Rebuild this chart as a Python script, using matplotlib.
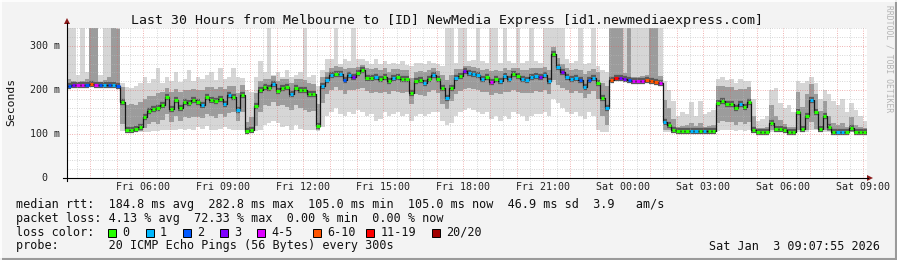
import numpy as np
import matplotlib
matplotlib.use("Agg")
import matplotlib.pyplot as plt
from matplotlib.patches import Rectangle, Polygon
from matplotlib.lines import Line2D

W, H = 897, 260
MONO = "DejaVu Sans Mono"

# one column per 10 minutes, Fri 03:07:55 .. Sat 09:07:55 (hours since Fri 00:00)
t_start = 3 + 7/60 + 55/3600
step_h = 1/6

median_ms = [
    210, 211, 212, 211, 212, 213, 212, 211, 212, 211, 211, 209,
    172, 110, 109, 112, 117, 139, 152, 157, 158, 167, 185, 156,
    177, 160, 173, 171, 178, 173, 167, 185, 177, 175, 180, 168,
    188, 185, 154, 189, 107, 108, 164, 200, 206, 204, 213, 198,
    205, 206, 190, 205, 199, 200, 190, 192, 118, 210, 222, 235,
    237, 236, 222, 234, 229, 238, 245, 227, 228, 230, 224, 230,
    220, 227, 230, 224, 225, 193, 220, 223, 217, 226, 235, 224,
    204, 182, 205, 227, 233, 243, 239, 237, 235, 226, 230, 218,
    224, 221, 231, 226, 236, 231, 224, 223, 229, 232, 230, 235,
    220, 283, 252, 240, 229, 224, 227, 223, 207, 222, 227, 215,
    182, 160, 223, 228, 227, 224, 222, 220, 220, 221, 223, 220,
    219, 217, 128, 120, 109, 106, 107, 106, 106, 107, 106, 106,
    107, 106, 170, 175, 168, 168, 160, 168, 162, 172, 110, 105,
    105, 105, 125, 112, 112, 108, 105, 105, 150, 112, 140, 178,
    151, 112, 140, 117, 105, 105, 105, 105, 113, 105, 105, 105,
]

# lost pings (of 20) per column
loss = [
    2, 3, 4, 4, 2, 7, 4, 2, 1, 2, 1, 2,
    0, 0, 0, 0, 0, 0, 0, 0, 0, 0, 0, 0,
    0, 0, 0, 0, 0, 0, 1, 0, 0, 0, 0, 1,
    1, 0, 1, 0, 0, 0, 0, 0, 0, 0, 1, 0,
    0, 0, 1, 0, 0, 0, 0, 0, 0, 1, 1, 1,
    0, 1, 2, 1, 3, 0, 0, 0, 0, 1, 0, 0,
    0, 1, 0, 0, 0, 0, 0, 0, 1, 0, 1, 0,
    0, 1, 0, 1, 0, 3, 1, 1, 1, 1, 0, 4,
    0, 1, 1, 1, 0, 0, 1, 1, 1, 1, 3, 1,
    1, 0, 1, 3, 1, 1, 1, 2, 1, 2, 1, 0,
    0, 1, 7, 14, 3, 3, 2, 4, 4, 5, 7, 8,
    7, 4, 1, 0, 0, 0, 0, 0, 1, 1, 0, 1,
    0, 0, 0, 0, 0, 0, 0, 1, 0, 0, 0, 0,
    0, 0, 0, 0, 0, 0, 0, 0, 0, 0, 0, 1,
    0, 0, 0, 0, 0, 1, 1, 0, 0, 0, 0, 0,
]

# smoke: fastest / slowest ping, and inner band around the median
ping_min = [
    206, 206, 206, 206, 206, 206, 206, 206, 206, 206, 206, 206,
    106, 104, 104, 104, 104, 105, 105, 106, 106, 108, 110, 108,
    110, 112, 110, 112, 110, 115, 112, 118, 110, 110, 112, 115,
    112, 110, 108, 110, 104, 104, 106, 110, 120, 125, 130, 125,
    115, 118, 110, 120, 112, 108, 108, 110, 106, 115, 140, 150,
    160, 145, 140, 150, 145, 155, 150, 140, 145, 130, 135, 150,
    140, 145, 150, 140, 145, 130, 140, 145, 140, 145, 150, 150,
    130, 120, 125, 140, 150, 155, 160, 155, 150, 145, 150, 135,
    140, 130, 140, 135, 150, 145, 140, 130, 140, 145, 145, 150,
    140, 180, 170, 160, 150, 145, 150, 140, 135, 150, 140, 110,
    105, 105, 219, 224, 223, 220, 218, 216, 216, 217, 219, 216,
    215, 213, 104, 104, 104, 104, 104, 104, 104, 104, 104, 104,
    104, 104, 106, 108, 110, 108, 106, 110, 106, 108, 104, 104,
    104, 104, 104, 104, 104, 104, 104, 104, 104, 104, 104, 110,
    108, 104, 104, 104, 104, 104, 104, 104, 104, 104, 104, 104,
]
spread_dn = [
    3, 3, 3, 3, 3, 3, 3, 3, 3, 3, 3, 3,
    50, 4, 3, 6, 10, 25, 30, 30, 35, 35, 40, 28,
    35, 30, 35, 35, 40, 35, 30, 40, 35, 38, 35, 30,
    40, 35, 25, 40, 3, 3, 45, 50, 40, 40, 40, 35,
    40, 45, 35, 40, 40, 45, 40, 40, 10, 40, 30, 35,
    30, 35, 30, 35, 30, 35, 40, 30, 35, 35, 30, 35,
    30, 30, 35, 30, 30, 25, 30, 35, 30, 30, 35, 30,
    35, 25, 30, 35, 35, 40, 35, 35, 35, 30, 35, 30,
    30, 30, 35, 30, 35, 35, 30, 30, 35, 35, 35, 35,
    30, 60, 40, 35, 30, 30, 30, 30, 25, 30, 30, 35,
    40, 40, 2, 2, 2, 2, 2, 2, 2, 2, 2, 2,
    2, 2, 20, 12, 4, 2, 2, 2, 2, 2, 2, 2,
    2, 2, 45, 45, 40, 40, 40, 40, 40, 45, 5, 1,
    1, 1, 15, 6, 6, 3, 1, 1, 40, 6, 30, 50,
    40, 6, 30, 10, 1, 1, 1, 1, 8, 1, 1, 1,
]
spread_up = [
    14, 9, 6, 9, 14, 130, 130, 8, 10, 18, 130, 130,
    35, 55, 60, 55, 55, 40, 35, 30, 35, 28, 20, 40,
    25, 35, 28, 30, 25, 28, 32, 22, 30, 28, 28, 35,
    22, 25, 40, 22, 20, 30, 30, 20, 20, 22, 18, 22,
    20, 20, 25, 20, 25, 22, 25, 22, 50, 20, 20, 15,
    18, 16, 25, 15, 20, 15, 12, 22, 20, 20, 22, 20,
    22, 20, 18, 22, 20, 35, 22, 20, 25, 20, 15, 20,
    30, 40, 30, 20, 15, 12, 15, 15, 15, 20, 18, 25,
    22, 22, 18, 20, 15, 18, 22, 22, 20, 18, 20, 18,
    25, 15, 20, 20, 20, 22, 20, 22, 30, 22, 20, 25,
    35, 50, 130, 130, 130, 15, 130, 10, 10, 10, 12, 130,
    130, 15, 50, 40, 25, 10, 12, 15, 20, 12, 18, 10,
    12, 15, 40, 35, 40, 38, 40, 35, 40, 35, 30, 8,
    8, 10, 40, 30, 20, 15, 10, 12, 45, 50, 50, 35,
    40, 40, 35, 25, 20, 15, 20, 12, 25, 15, 10, 8,
]
ping_max = [
    341, 341, 235, 341, 240, 341, 341, 235, 341, 341, 341, 341,
    215, 208, 205, 210, 215, 230, 215, 225, 250, 215, 230, 220,
    240, 218, 225, 245, 220, 230, 225, 235, 240, 222, 250, 225,
    230, 250, 230, 228, 200, 195, 230, 265, 240, 341, 235, 240,
    230, 245, 230, 235, 240, 341, 230, 235, 210, 245, 270, 270,
    341, 260, 270, 265, 341, 270, 270, 265, 260, 270, 260, 265,
    260, 262, 260, 265, 258, 255, 262, 262, 260, 265, 262, 260,
    255, 341, 341, 262, 341, 341, 265, 268, 341, 265, 262, 341,
    341, 262, 341, 265, 262, 341, 262, 265, 341, 265, 262, 341,
    341, 341, 341, 341, 270, 262, 265, 341, 260, 262, 341, 255,
    245, 240, 341, 341, 341, 341, 341, 341, 341, 341, 341, 341,
    341, 341, 220, 200, 175, 140, 150, 145, 172, 140, 175, 145,
    150, 155, 225, 230, 222, 225, 215, 225, 220, 220, 180, 130,
    135, 140, 200, 205, 170, 160, 165, 150, 220, 215, 220, 230,
    215, 180, 200, 190, 175, 165, 180, 150, 170, 155, 140, 130,
]

tick_hours = [6, 9, 12, 15, 18, 21, 24, 27, 30, 33]
tick_labels = ["Fri 06:00", "Fri 09:00", "Fri 12:00", "Fri 15:00", "Fri 18:00",
               "Fri 21:00", "Sat 00:00", "Sat 03:00", "Sat 06:00", "Sat 09:00"]
y_ticks = [0, 100, 200, 300]
y_labels = ["0", "100 m", "200 m", "300 m"]

loss_upper = [0, 1, 2, 3, 5, 10, 19, 20]
loss_names = ["0", "1", "2", "3", "4-5", "6-10", "11-19", "20/20"]
loss_colors = ["#26ff00", "#00b8ff", "#0059ff", "#7e00ff",
               "#dd00ff", "#ff5500", "#ff0000", "#a10000"]

title = "Last 30 Hours from Melbourne to [ID] NewMedia Express [id1.newmediaexpress.com]"
rtt_line = "median rtt:  184.8 ms avg  282.8 ms max  105.0 ms min  105.0 ms now  46.9 ms sd  3.9   am/s"
loss_line = "packet loss: 4.13 % avg  72.33 % max  0.00 % min  0.00 % now"
probe_line = "probe:       20 ICMP Echo Pings (56 Bytes) every 300s"
stamp = "Sat Jan  3 09:07:55 2026"


def fx(x):
    return x / W


def fy(y):
    return 1 - y / H


fig = plt.figure(figsize=(W / 100, H / 100), dpi=100, facecolor="#f3f3f3")
ax = fig.add_axes([fx(67), fy(178), 800 / W, 150 / H])
ax.set_facecolor("white")
for s in ax.spines.values():
    s.set_visible(False)

med = np.array(median_ms, float)
n = len(med)
edges = t_start + np.arange(n + 1) * step_h
lo_out = np.minimum(np.array(ping_min, float), med)
hi_out = np.maximum(np.array(ping_max, float), med)
lo_in = np.maximum(med - np.array(spread_dn), lo_out)
hi_in = np.minimum(med + np.array(spread_up), hi_out)


def ext(a):
    return np.append(a, a[-1])


ax.fill_between(edges, ext(lo_out), ext(hi_out), step="post", color="#d6d6d6", lw=0, zorder=1)
ax.fill_between(edges, ext(lo_in), ext(hi_in), step="post", color="#9c9c9c", lw=0, zorder=2)
# dark smoke core hugging the median (horizontal only)
ax.hlines(med, edges[:-1], edges[1:], colors="#5a5a5a", lw=4.5, zorder=2.5)

# grid
for h in np.arange(3.5, 33.01, 0.5):
    major = abs(h - round(h)) < 1e-6
    ax.axvline(h, color="#e06060" if major else "#b8b8b8", alpha=0.6 if major else 0.7,
               lw=0.7, ls=(0, (0.8, 1.6)), zorder=3)
for v in range(20, 341, 20):
    major = v % 100 == 0
    ax.axhline(v, color="#e06060" if major else "#b8b8b8", alpha=0.6 if major else 0.7,
               lw=0.7, ls=(0, (0.8, 1.6)), zorder=3)

ax.step(edges, ext(med), where="post", color="#151515", lw=0.9, zorder=4)
cidx = np.searchsorted(loss_upper, np.array(loss))
cols = [loss_colors[k] for k in cidx]
ax.hlines(med, edges[:-1] + 0.12 * step_h, edges[:-1] + 0.88 * step_h,
          colors=cols, lw=2.2, zorder=5)

ax.set_xlim(t_start, t_start + 30)
ax.set_ylim(0, 341)
ax.set_xticks([])
ax.set_yticks([])

for h, lab in zip(tick_hours, tick_labels):
    ax.annotate(lab, xy=(h, 0), xycoords=("data", "axes fraction"), xytext=(0, -12.5),
                textcoords="offset pixels", ha="center", va="baseline",
                fontsize=7.2, family=MONO, color="#222222")
for v, lab in zip(y_ticks, y_labels):
    off = -20 if lab == "0" else -7
    ax.annotate(lab, xy=(0, v), xycoords=("axes fraction", "data"), xytext=(off, 0),
                textcoords="offset pixels", ha="right", va="center",
                fontsize=7.2, family=MONO, color="#222222")

# axes with arrows
fig.add_artist(Line2D([fx(67), fx(67)], [fy(181), fy(23)], color="black", lw=0.8))
fig.add_artist(Line2D([fx(63), fx(868)], [fy(178), fy(178)], color="black", lw=0.8))
fig.add_artist(Polygon([(fx(64), fy(24)), (fx(70), fy(24)), (fx(67), fy(18))],
                       closed=True, color="#8b1a1a", lw=0))
fig.add_artist(Polygon([(fx(867), fy(175)), (fx(867), fy(181)), (fx(873), fy(178))],
                       closed=True, color="#8b1a1a", lw=0))

fig.text(fx(447), fy(24), title, ha="center", va="baseline", fontsize=9.5, family=MONO, color="#111111")
fig.text(fx(11), fy(102), "Seconds", ha="center", va="center", rotation=90,
         fontsize=8.2, family=MONO, color="#111111")
fig.text(fx(889), fy(5), "RRDTOOL / TOBI OETIKER", ha="center", va="top", rotation=270,
         fontsize=5.8, family=MONO, color="#b4b4b4")

lk = dict(va="baseline", fontsize=8.5, family=MONO, color="#111111")
fig.text(fx(16), fy(207.7), rtt_line, **lk)
fig.text(fx(16), fy(221.7), loss_line, **lk)
fig.text(fx(16), fy(235.7), "loss color:", **lk)
box_x = [108, 145.5, 182.5, 219.5, 256.5, 312.5, 366, 432]
for bx, name, c in zip(box_x, loss_names, loss_colors):
    fig.add_artist(Rectangle((fx(bx), fy(236.5)), 8 / W, 8 / H, facecolor=c,
                             edgecolor="black", lw=0.7))
    fig.text(fx(bx + 14.5), fy(235.7), name, **lk)
fig.text(fx(16), fy(249.5), probe_line, **lk)
fig.text(fx(880), fy(249.5), stamp, ha="right", **lk)

# 3d frame
fig.add_artist(Line2D([0, 1], [fy(259), fy(259)], color="#9a9a9a", lw=1.5))
fig.add_artist(Line2D([fx(896), fx(896)], [0, 1], color="#9a9a9a", lw=1.5))
fig.add_artist(Line2D([0, 1], [fy(0.5), fy(0.5)], color="white", lw=1.2))
fig.add_artist(Line2D([fx(0.5), fx(0.5)], [0, 1], color="white", lw=1.2))

fig.savefig("out.png", dpi=100, facecolor=fig.get_facecolor())
